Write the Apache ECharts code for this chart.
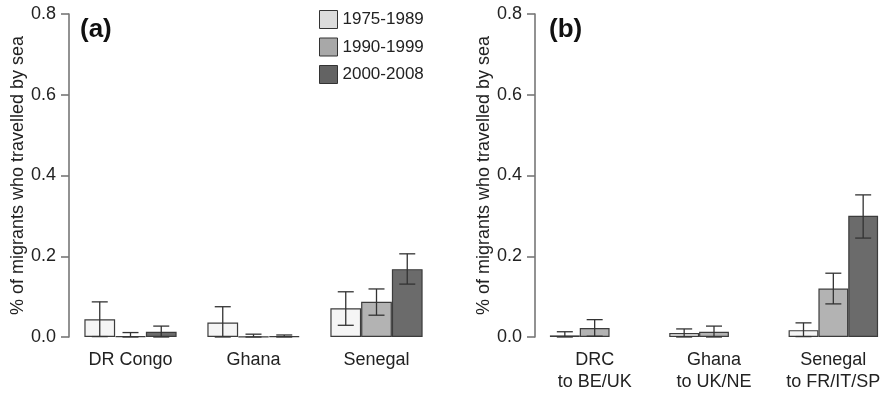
<!DOCTYPE html>
<html>
<head>
<meta charset="utf-8">
<script src="https://cdn.jsdelivr.net/npm/echarts@6/dist/echarts.min.js"></script>
<style>
  html, body { margin: 0; padding: 0; background: #fff; }
  #chart { width: 893px; height: 394px; }
</style>
</head>
<body>
<div id="chart"></div>
<script>
// Share of migrants who travelled by sea, by period of departure
const periods = ['1975-1989', '1990-1999', '2000-2008'];
const categoriesA = ['DR Congo', 'Ghana', 'Senegal'];
const categoriesB = ['DRC\nto BE/UK', 'Ghana\nto UK/NE', 'Senegal\nto FR/IT/SP'];
const yTicks = [0, 0.2, 0.4, 0.6, 0.8];

// Panel (a): origin country
const meanA1975 = [0.044, 0.036, 0.071];
const meanA1990 = [0.002, 0.001, 0.087];
const meanA2000 = [0.013, 0.002, 0.168];
const lowA1975 = [0.001, 0.000, 0.029];
const lowA1990 = [0.000, 0.000, 0.054];
const lowA2000 = [0.000, 0.000, 0.131];
const highA1975 = [0.087, 0.075, 0.112];
const highA1990 = [0.011, 0.007, 0.119];
const highA2000 = [0.027, 0.005, 0.206];

// Panel (b): origin to destination corridors (no data where null)
const meanB1975 = [0.004, 0.010, 0.017];
const meanB1990 = [0.022, 0.013, 0.120];
const meanB2000 = [null, null, 0.300];
const lowB1975 = [0.000, 0.000, 0.001];
const lowB1990 = [0.002, 0.000, 0.082];
const lowB2000 = [null, null, 0.245];
const highB1975 = [0.013, 0.020, 0.035];
const highB1990 = [0.043, 0.027, 0.158];
const highB2000 = [null, null, 0.352];

const barColors = ['#f5f5f5', '#b3b3b3', '#6b6b6b'];
const legendColors = ['#dcdcdc', '#a8a8a8', '#636363'];
const FONT = 'Liberation Sans, Arial, Helvetica, sans-serif';

function errorRows(lows, highs) {
  const rows = [];
  lows.forEach((lo, k) => {
    lo.forEach((v, i) => {
      if (v !== null && highs[k][i] !== null) rows.push([i, v, highs[k][i], k]);
    });
  });
  return rows;
}

function renderError(params, api) {
  const cat = api.value(0);
  const k = api.value(3);
  const catW = api.size([1, 0])[0];
  const barW = catW * 0.75 / 3;
  const base = api.coord([cat, 0]);
  const x = base[0] + (k - 1) * barW;
  const yLo = api.coord([cat, api.value(1)])[1];
  const yHi = api.coord([cat, api.value(2)])[1];
  const half = 8;
  const style = { stroke: '#333', lineWidth: 1.3, fill: null };
  return {
    type: 'group',
    children: [
      { type: 'line', shape: { x1: x, y1: yLo, x2: x, y2: yHi }, style },
      { type: 'line', shape: { x1: x - half, y1: yHi, x2: x + half, y2: yHi }, style },
      { type: 'line', shape: { x1: x - half, y1: yLo, x2: x + half, y2: yLo }, style }
    ]
  };
}

function yAxisFor(gridIndex) {
  return {
    type: 'value', gridIndex, min: 0, max: 0.8, interval: 0.2,
    name: '% of migrants who travelled by sea',
    nameLocation: 'middle', nameRotate: 90, nameGap: 41,
    nameTextStyle: { fontFamily: FONT, fontSize: 18, color: '#222' },
    axisLine: { show: true, lineStyle: { color: '#777', width: 1.6 } },
    axisTick: { show: true, length: 8, lineStyle: { color: '#777', width: 1.6 } },
    axisLabel: {
      margin: 13, fontFamily: FONT, fontSize: 18, color: '#222',
      formatter: v => yTicks.includes(Math.round(v * 10) / 10) ? v.toFixed(1) : ''
    },
    splitLine: { show: false }
  };
}

function xAxisFor(gridIndex, cats) {
  return {
    type: 'category', gridIndex, data: cats,
    axisLine: { show: false }, axisTick: { show: false },
    axisLabel: {
      interval: 0, hideOverlap: false, margin: 12,
      fontFamily: FONT, fontSize: 18, color: '#222', lineHeight: 22
    }
  };
}

function barSeries(gridIndex, means) {
  return means.map((vals, k) => ({
    name: periods[k], type: 'bar', xAxisIndex: gridIndex, yAxisIndex: gridIndex,
    data: vals.map(v => v === null ? '-' : v),
    barGap: '0%', barCategoryGap: '25%',
    itemStyle: { color: barColors[k], borderColor: '#3c3c3c', borderWidth: 1.2 },
    emphasis: { disabled: true }
  }));
}

const chart = echarts.init(document.getElementById('chart'), null, { renderer: 'canvas' });
chart.setOption({
  animation: false,
  backgroundColor: '#fff',
  grid: [
    { left: 69, top: 14, width: 369, height: 323 },
    { left: 535, top: 14, width: 369, height: 323 }
  ],
  legend: {
    orient: 'vertical', left: 319, top: 10, padding: 0,
    icon: 'rect', itemWidth: 18, itemHeight: 18, itemGap: 8.5,
    textStyle: { fontFamily: FONT, fontSize: 17, color: '#222' },
    data: periods.map((p, k) => ({
      name: p,
      itemStyle: { color: legendColors[k], borderColor: '#333', borderWidth: 1 }
    }))
  },
  xAxis: [xAxisFor(0, categoriesA), xAxisFor(1, categoriesB)],
  yAxis: [yAxisFor(0), yAxisFor(1)],
  graphic: [
    { type: 'text', left: 80, top: 17, style: { text: '(a)', font: 'bold 26px ' + FONT, fill: '#111' } },
    { type: 'text', left: 549, top: 17, style: { text: '(b)', font: 'bold 26px ' + FONT, fill: '#111' } }
  ],
  series: [
    ...barSeries(0, [meanA1975, meanA1990, meanA2000]),
    ...barSeries(1, [meanB1975, meanB1990, meanB2000]),
    {
      type: 'custom', xAxisIndex: 0, yAxisIndex: 0, renderItem: renderError, z: 5,
      data: errorRows([lowA1975, lowA1990, lowA2000], [highA1975, highA1990, highA2000])
    },
    {
      type: 'custom', xAxisIndex: 1, yAxisIndex: 1, renderItem: renderError, z: 5,
      data: errorRows([lowB1975, lowB1990, lowB2000], [highB1975, highB1990, highB2000])
    }
  ]
});
</script>
</body>
</html>
